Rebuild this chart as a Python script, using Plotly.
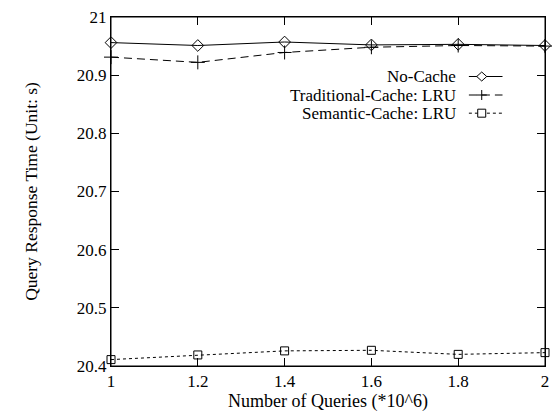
import plotly.graph_objects as go

queries = [1.0, 1.2, 1.4, 1.6, 1.8, 2.0]
no_cache = [20.956, 20.951, 20.957, 20.952, 20.953, 20.951]
trad_lru = [20.931, 20.922, 20.939, 20.948, 20.951, 20.950]
sem_lru = [20.411, 20.419, 20.426, 20.427, 20.420, 20.423]
names = ["No-Cache", "Traditional-Cache: LRU", "Semantic-Cache: LRU"]
x_ticks = [1, 1.2, 1.4, 1.6, 1.8, 2]
x_tick_labels = ["1", "1.2", "1.4", "1.6", "1.8", "2"]
y_ticks = [20.4, 20.5, 20.6, 20.7, 20.8, 20.9, 21]
y_tick_labels = ["20.4", "20.5", "20.6", "20.7", "20.8", "20.9", "21"]

FONT = "Liberation Serif"
styles = [
    dict(dash="solid", symbol="diamond-open", size=9, kind="diamond"),
    dict(dash="8px,5px", symbol="cross-thin-open", size=10, kind="cross"),
    dict(dash="3px,3px", symbol="square-open", size=8, kind="square"),
]
series = [no_cache, trad_lru, sem_lru]

fig = go.Figure()
for name, ys, st in zip(names, series, styles):
    fig.add_trace(go.Scatter(
        x=queries, y=ys, mode="lines+markers", name=name,
        line=dict(color="black", width=1, dash=st["dash"]),
        marker=dict(symbol=st["symbol"], size=st["size"], color="black",
                    line=dict(color="black", width=1)),
        showlegend=False, cliponaxis=False,
    ))

# custom key (text left of sample), like the original
leg_y = [0.8295, 0.7765, 0.7244]
x_text = 0.7995
x_l0, x_mk, x_l1 = 0.8246, 0.8542, 0.9021
marker_paths = {
    "diamond": "M -5 0 L 0 -4.5 L 5 0 L 0 4.5 Z",
    "cross": "M -5 0 L 5 0 M 0 -5 L 0 5",
    "square": "M -4 -4 L 4 -4 L 4 4 L -4 4 Z",
}
for i, (name, st) in enumerate(zip(names, styles)):
    y = leg_y[i]
    fig.add_annotation(x=x_text, y=y, xref="paper", yref="paper",
                       text=name, showarrow=False, xanchor="right",
                       yanchor="middle",
                       font=dict(family=FONT, size=17, color="black"))
    fig.add_shape(type="line", xref="paper", yref="paper",
                  x0=x_l0, x1=x_l1, y0=y, y1=y,
                  line=dict(color="black", width=1, dash=st["dash"]))
    fig.add_shape(type="path", xref="paper", yref="paper",
                  xsizemode="pixel", ysizemode="pixel",
                  xanchor=x_mk, yanchor=y,
                  path=marker_paths[st["kind"]],
                  fillcolor="white",
                  line=dict(color="black", width=1))

# plot frame
fig.add_shape(type="rect", xref="paper", yref="paper", x0=0, x1=1, y0=0, y1=1,
              line=dict(color="black", width=1), layer="above")

axis_common = dict(ticks="inside", ticklen=8, tickcolor="black", tickwidth=1,
                   showgrid=False, zeroline=False, showline=True,
                   linecolor="black", linewidth=1,
                   tickfont=dict(family=FONT, size=17, color="black"))

fig.update_layout(
    width=557, height=414,
    margin=dict(l=111, r=8, t=14, b=48),
    paper_bgcolor="white", plot_bgcolor="white",
    font=dict(family=FONT, size=17, color="black"),
    xaxis=dict(range=[1, 2], tickvals=x_ticks, ticktext=x_tick_labels,
               mirror="ticks",
               title=dict(text="Number of Queries (*10^6)", standoff=0,
                          font=dict(family=FONT, size=18)),
               **axis_common),
    yaxis=dict(range=[20.4, 21], tickvals=y_ticks, ticktext=y_tick_labels,
               title=dict(text="Query Response Time (Unit: s)", standoff=34,
                          font=dict(family=FONT, size=17.5)),
               **axis_common),
    yaxis2=dict(overlaying="y", side="right", anchor="x", matches="y",
                tickvals=y_ticks, showticklabels=False, **axis_common),
)
# attach an empty trace so the right-hand tick axis is drawn
fig.add_trace(go.Scatter(x=[None], y=[None], yaxis="y2", showlegend=False,
                         hoverinfo="skip"))

fig.write_html(
    "out.html",
    config={"displayModeBar": False},
    post_script="document.body.style.margin='0';document.body.style.overflow='hidden';",
)
